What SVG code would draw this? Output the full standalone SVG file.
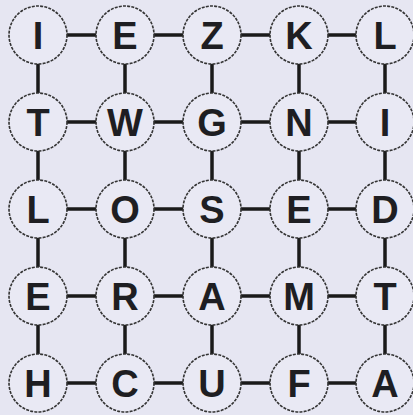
<svg xmlns="http://www.w3.org/2000/svg" width="413" height="415" viewBox="0 0 413 415">
<style>
.bg{fill:#e6e6f2}
.c{fill:#e9e9f4;stroke:#333;stroke-width:1.6;stroke-dasharray:3 1.2}
.t{font-family:"Liberation Sans",Arial,sans-serif;font-weight:bold;font-size:38px;fill:#1e1e22;text-anchor:middle}
.e{stroke:#1a1a1a;stroke-width:3.5;fill:none}
</style>
<rect class="bg" x="0" y="0" width="413" height="415"/>
<g id="connectors">
<path class="e" d="M38 35H385M38 122H385M38 209H385M38 296H385M38 383H385M38 35V383M125 35V383M212 35V383M299 35V383M385 35V383"/>
</g>
<g id="n-I1"><circle class="c" cx="38" cy="35" r="29"/><text class="t" x="38" y="49">I</text></g>
<g id="n-E1"><circle class="c" cx="125" cy="35" r="29"/><text class="t" x="125" y="49">E</text></g>
<g id="n-Z"><circle class="c" cx="212" cy="35" r="29"/><text class="t" x="212" y="49">Z</text></g>
<g id="n-K"><circle class="c" cx="299" cy="35" r="29"/><text class="t" x="299" y="49">K</text></g>
<g id="n-L1"><circle class="c" cx="385" cy="35" r="29"/><text class="t" x="385" y="49">L</text></g>
<g id="n-T1"><circle class="c" cx="38" cy="122" r="29"/><text class="t" x="38" y="136">T</text></g>
<g id="n-W"><circle class="c" cx="125" cy="122" r="29"/><text class="t" x="125" y="136">W</text></g>
<g id="n-G"><circle class="c" cx="212" cy="122" r="29"/><text class="t" x="212" y="136">G</text></g>
<g id="n-N"><circle class="c" cx="299" cy="122" r="29"/><text class="t" x="299" y="136">N</text></g>
<g id="n-I2"><circle class="c" cx="385" cy="122" r="29"/><text class="t" x="385" y="136">I</text></g>
<g id="n-L2"><circle class="c" cx="38" cy="209" r="29"/><text class="t" x="38" y="223">L</text></g>
<g id="n-O"><circle class="c" cx="125" cy="209" r="29"/><text class="t" x="125" y="223">O</text></g>
<g id="n-S"><circle class="c" cx="212" cy="209" r="29"/><text class="t" x="212" y="223">S</text></g>
<g id="n-E2"><circle class="c" cx="299" cy="209" r="29"/><text class="t" x="299" y="223">E</text></g>
<g id="n-D"><circle class="c" cx="385" cy="209" r="29"/><text class="t" x="385" y="223">D</text></g>
<g id="n-E3"><circle class="c" cx="38" cy="296" r="29"/><text class="t" x="38" y="310">E</text></g>
<g id="n-R"><circle class="c" cx="125" cy="296" r="29"/><text class="t" x="125" y="310">R</text></g>
<g id="n-A1"><circle class="c" cx="212" cy="296" r="29"/><text class="t" x="212" y="310">A</text></g>
<g id="n-M"><circle class="c" cx="299" cy="296" r="29"/><text class="t" x="299" y="310">M</text></g>
<g id="n-T2"><circle class="c" cx="385" cy="296" r="29"/><text class="t" x="385" y="310">T</text></g>
<g id="n-H"><circle class="c" cx="38" cy="383" r="29"/><text class="t" x="38" y="397">H</text></g>
<g id="n-C"><circle class="c" cx="125" cy="383" r="29"/><text class="t" x="125" y="397">C</text></g>
<g id="n-U"><circle class="c" cx="212" cy="383" r="29"/><text class="t" x="212" y="397">U</text></g>
<g id="n-F"><circle class="c" cx="299" cy="383" r="29"/><text class="t" x="299" y="397">F</text></g>
<g id="n-A2"><circle class="c" cx="385" cy="383" r="29"/><text class="t" x="385" y="397">A</text></g>
</svg>
